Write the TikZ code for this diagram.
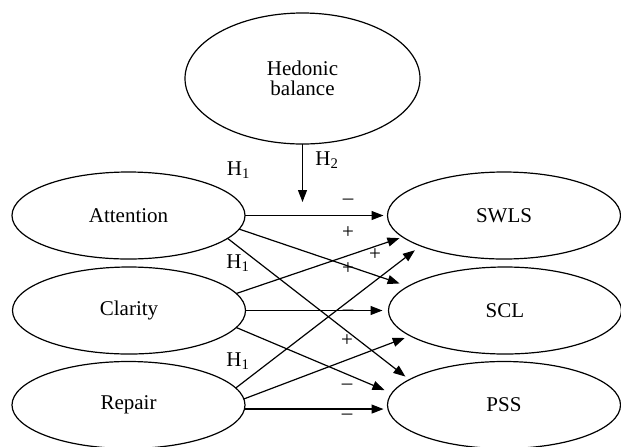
\documentclass[tikz,border=0pt]{standalone}
\usepackage{fontspec}
\setmainfont{Liberation Serif}
\usetikzlibrary{shapes.geometric,arrows.meta}
\begin{document}
\begin{tikzpicture}[x=0.5pt,y=-0.5pt,
  ell/.style={draw,ellipse,line width=0.6pt,inner sep=0pt,outer sep=0pt,
    minimum width=116.5pt,minimum height=43.5pt,font=\fontsize{10.5}{10}\selectfont},
  arr/.style={line width=0.6pt,-{Triangle[length=6pt,width=4.5pt]}},
  lab/.style={inner sep=0pt,anchor=base west,font=\fontsize{10.5}{10}\selectfont},
  sgn/.style={inner sep=0pt,font=\fontsize{10.5}{10}\selectfont}]
\useasboundingbox (0,0) rectangle (621,446);
% nodes
\node[ell,minimum width=117.5pt,minimum height=65.5pt,align=center] (hb) at (302.5,78.5) {Hedonic\\balance};
\node[ell] (att) at (128.5,215.5) {Attention};
\node[ell] (cla) at (129,310.5) {Clarity};
\node[ell] (rep) at (128.5,405) {Repair};
\node[ell] (swls) at (504,215.5) {SWLS};
\node[ell] (scl) at (505,310.5) {SCL};
\node[ell] (pss) at (504,405) {PSS};
\coordinate (h2tip) at (302.5,202);
% connectors
\draw[arr] (hb.south) -- (h2tip);
\draw[arr,shorten >=2pt] (att.east) -- (swls.west);
\draw[arr,shorten >=4.5pt] (att.-7) -- (scl.166.6);
\draw[arr,shorten >=2.5pt] (att.-13.7) -- (pss.165.2);
\draw[arr,shorten >=1.75pt] (cla.9.6) -- (swls.-168.85);
\draw[arr,shorten >=3pt] (cla.east) -- (scl.west);
\draw[arr,shorten >=4pt] (cla.-9.7) -- (pss.174.6);
\draw[arr,shorten >=3.6pt] (rep.9.3) -- (swls.-160.35);
\draw[arr,shorten >=3pt] (rep.3.4) -- (scl.-165.3);
\draw[arr,shorten >=2pt] (rep.-2.7) -- (rep.-2.7 -| pss.west);
% labels
\node[lab] (h1a) at (226.5,175) {H\textsubscript{1}};
\node[lab] (h2) at (315,165) {H\textsubscript{2}};
\node[lab] (h1b) at (226,268) {H\textsubscript{1}};
\node[lab] (h1c) at (226,366) {H\textsubscript{1}};
% signs
\node[sgn] (s1) at (348,202) {–};
\node[sgn] (s2) at (348,233) {+};
\node[sgn] (s3) at (375,255) {+};
\node[sgn] (s4) at (348,269) {+};
\node[sgn] (s5) at (348,313) {–};
\node[sgn] (s6) at (347,341) {+};
\node[sgn] (s7) at (347,387) {–};
\node[sgn] (s8) at (347,417) {–};
\end{tikzpicture}
\end{document}
